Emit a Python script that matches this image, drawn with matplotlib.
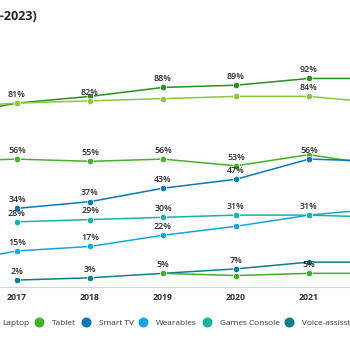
import matplotlib.pyplot as plt
from matplotlib.lines import Line2D
import numpy as np

plt.rcParams['font.family'] = ['Open Sans', 'DejaVu Sans']

years = [2016, 2017, 2018, 2019, 2020, 2021, 2022]
nan = np.nan

# values, in %
smartphone = [75, 81, 84, 88, 89, 92, 92]
laptop = [79, 81, 82, 83, 84, 84, 81]
tablet = [55, 56, 55, 56, 53, 58, 53]
smart_tv = [nan, 34, 37, 43, 47, 56, 55]
wearables = [9, 15, 17, 22, 26, 31, 34]
games_console = [nan, 28, 29, 30, 31, 31, 30]
voice_assistant = [nan, 2, 3, 5, 7, 10, 10]
vr_headset = [nan, nan, nan, 5, 4, 5, 5]

names = ['Smartphone', 'Laptop', 'Tablet', 'Smart TV', 'Wearables',
         'Games Console', 'Voice-assisstant', 'VR Headset']
series = [smartphone, laptop, tablet, smart_tv, wearables,
          games_console, voice_assistant, vr_headset]
colors = ['#2b8f23', '#8dc63f', '#45b02c', '#0e77b5', '#13a6e4',
          '#17b2a8', '#0d7f87', '#3fae2d']
# which years get a data label
labelled = [
    [2019, 2020, 2021],
    [2017, 2018, 2021],
    [2017, 2018, 2019, 2020],
    [2017, 2018, 2019, 2020, 2021],
    [2017, 2018, 2019],
    [2017, 2018, 2019, 2020, 2021],
    [2017, 2018, 2019, 2020],
    [2021],
]

fig = plt.figure(figsize=(3.5, 3.5), dpi=100)
ax = fig.add_axes([-0.16, 0.18, 1.46, 0.647])

for name, vals, c, labs in zip(names, series, colors, labelled):
    ax.plot(years, vals, color=c, lw=1.1, marker='o', ms=4.6,
            mec='white', mew=0.5, label=name)
    for x, v in zip(years, vals):
        if x in labs:
            ax.annotate(f"{v}%", (x, v), xytext=(0, 3), textcoords='offset points',
                        ha='center', va='bottom', fontsize=6.4, color='#2a2a2a',
                        fontweight='semibold')

ax.set_xlim(2016, 2023)
ax.set_ylim(-1.1, 100)
ax.set_xticks(years[1:-1])
ax.set_xticklabels([str(y) for y in years[1:-1]], fontsize=6.3, fontweight='bold', color='#333333')
ax.tick_params(axis='x', length=0, pad=4)
ax.set_yticks([])
for s in ['top', 'right', 'left']:
    ax.spines[s].set_visible(False)
ax.spines['bottom'].set_color('#ccd6eb')
ax.spines['bottom'].set_linewidth(0.8)

fig.text(37 / 350, 1 - 17 / 350, '(2017-2023)', ha='right', va='center',
         fontsize=9, fontweight='bold', color='#222222')

handles = [Line2D([], [], ls='none', marker='o', ms=6.2, color=c) for c in colors]
fig.legend(handles, names, loc='center left', bbox_to_anchor=(-0.246, 1 - 323 / 350),
           ncol=8, frameon=False, fontsize=5.95, labelcolor='#333333',
           handletextpad=1.05, columnspacing=0.7, handlelength=1.0,
           borderpad=0, borderaxespad=0)

fig.savefig('out.png', dpi=100)
